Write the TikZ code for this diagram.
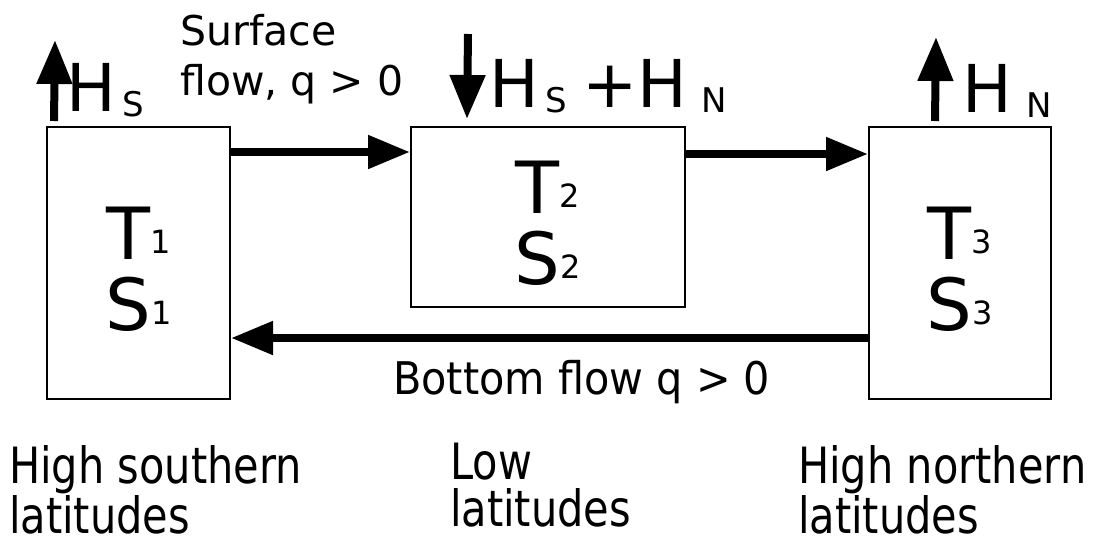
\documentclass[tikz,border=0pt]{standalone}
\usepackage{fontspec}
\setmainfont{DejaVu Sans}
\newfontfamily\narrowfont{DejaVu Sans}[FakeStretch=0.83]
\newfontfamily\midfont{DejaVu Sans}[FakeStretch=0.92]
\usetikzlibrary{arrows.meta}
% small raised index inside the boxes, lowered index for the heat fluxes
\newcommand{\tsub}[1]{{\fontsize{32}{32}\selectfont\raisebox{6pt}{#1}}}
\newcommand{\hsub}[2][7pt]{\kern#1\lower5pt\hbox{\fontsize{34}{34}\selectfont #2}}
\tikzset{
	reservoir/.style={draw=black,line width=2pt,inner sep=0pt},
	boxtext/.style={inner sep=0pt,align=center,font=\fontsize{72}{71}\selectfont},
	flow/.style={draw=black,line width=8pt,-{Triangle[length=42pt,width=32pt]}},
	heat/.style={draw=black,line width=8pt,-{Triangle[length=44pt,width=34pt]}},
	fluxlbl/.style={inner sep=0pt,anchor=base west,font=\fontsize{66}{66}\selectfont},
	region/.style={inner sep=0pt,anchor=base west,align=left},
}
\begin{document}
\begin{tikzpicture}[x=1pt,y=-1pt]
	\useasboundingbox (0,0) rectangle (1095,542);
	% the three boxes
	\node[reservoir,minimum width=183pt,minimum height=272pt] (south) at (138.5,263) {};
	\node[reservoir,minimum width=274pt,minimum height=180pt] (low) at (548,217) {};
	\node[reservoir,minimum width=182pt,minimum height=272pt] (north) at (960,263) {};
	\node[boxtext] (south text) at ([yshift=-6pt]south.center) {T\tsub{1}\\S\tsub{1}};
	\node[boxtext] (low text) at ([yshift=-6pt]low.center) {T\tsub{2}\\S\tsub{2}};
	\node[boxtext] (north text) at ([yshift=-6pt]north.center) {T\tsub{3}\\S\tsub{3}};
	% surface and bottom flow
	\draw[flow] ([yshift=-26pt]south.north east) -- ([yshift=-26pt]low.north west);
	\draw[flow] ([yshift=-28pt]low.north east) -- ([yshift=-28pt]north.north west);
	\draw[flow] ([yshift=62pt]north.south west) -- ([yshift=62pt]south.south east);
	\node[region,font=\fontsize{41}{50}\selectfont] (surface) at (180,95) {Surface\\flow, q > 0};
	\node[region,font=\midfont\fontsize{45}{45}\selectfont] (bottom) at (393,394) {Bottom flow q > 0};
	% heat fluxes
	\coordinate (out S) at (55,40);
	\coordinate (in top) at (468,34);
	\coordinate (out N) at (936,37);
	\draw[heat] ([xshift=8pt,yshift=5pt]south.north west) -- (out S);
	\draw[heat] (in top) -- ([xshift=57pt,yshift=7pt]low.north west);
	\draw[heat] ([xshift=67pt,yshift=5pt]north.north west) -- (out N);
	\node[fluxlbl] (HS) at (66,111) {H\hsub{S}};
	\node[fluxlbl] (HSN) at (489,107) {H\hsub{S}\kern15pt+H\hsub[14pt]{N}};
	\node[fluxlbl] (HN) at (962,112) {H\hsub[15pt]{N}};
	% latitude bands
	\node[region,font=\narrowfont\fontsize{50}{45}\selectfont] (south band) at (9,533) {High southern\\latitudes};
	\node[region,font=\narrowfont\fontsize{50}{47}\selectfont] (low band) at (450,526) {Low\\latitudes};
	\node[region,font=\narrowfont\fontsize{50}{45}\selectfont] (north band) at (798,533) {High northern\\latitudes};
\end{tikzpicture}
\end{document}
